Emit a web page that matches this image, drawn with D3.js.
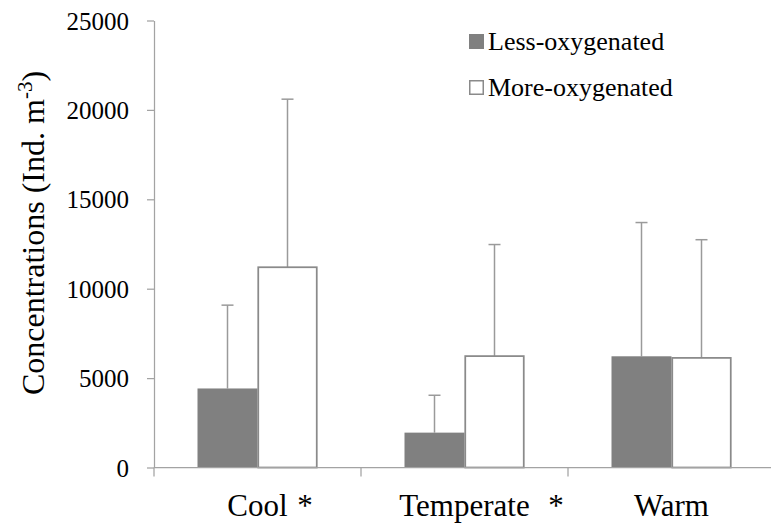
<!DOCTYPE html>
<html>
<head>
<meta charset="utf-8">
<script src="https://cdn.jsdelivr.net/npm/d3@7"></script>
<style>
  html, body { margin: 0; padding: 0; background: #fff; }
  svg { display: block; }
</style>
</head>
<body>
<svg id="chart" width="771" height="525"></svg>
<script>
// Mean concentrations by water-mass category, with upper error bars
const categories = ["Cool", "Temperate", "Warm"];
const significant = [true, true, false];
const seriesNames = ["Less-oxygenated", "More-oxygenated"];
const lessMeans = [4420, 1950, 6220];
const lessUpper = [9080, 4040, 13700];
const moreMeans = [11200, 6230, 6130];
const moreUpper = [20600, 12470, 12740];
const yTicks = [0, 5000, 10000, 15000, 20000, 25000];

const FONT = '"Liberation Serif"';

function draw() {
  const svg = d3.select("#chart");
  svg.selectAll("*").remove();
  const plot = { left: 154, right: 775, top: 20.5, bottom: 467.5 };

  const y = d3.scaleLinear().domain([0, 25000]).range([plot.bottom, plot.top]);
  const x0 = d3.scaleBand().domain(categories).range([plot.left, plot.right]).padding(0);
  const x1 = d3.scaleBand().domain(seriesNames).range([0, x0.bandwidth()])
    .paddingInner(0).paddingOuter(0.725);

  const rows = categories.map((c, i) => ({
    cat: c,
    bars: [
      { s: seriesNames[0], v: lessMeans[i], hi: lessUpper[i] },
      { s: seriesNames[1], v: moreMeans[i], hi: moreUpper[i] }
    ]
  }));

  const axisColor = "#a3a3a3";
  const errColor = "#9a9a9a";

  // error bars (drawn first so the bars sit on top of the stems)
  const groups = svg.append("g").selectAll("g").data(rows).join("g")
    .attr("transform", d => `translate(${x0(d.cat)},0)`);

  groups.selectAll("g.err").data(d => d.bars).join("g").attr("class", "err")
    .each(function (d) {
      const g = d3.select(this);
      const cx = x1(d.s) + x1.bandwidth() / 2;
      g.append("line").attr("x1", cx).attr("x2", cx)
        .attr("y1", y(d.v)).attr("y2", y(d.hi))
        .attr("stroke", errColor).attr("stroke-width", 1.5);
      g.append("line").attr("x1", cx - 6).attr("x2", cx + 6)
        .attr("y1", y(d.hi)).attr("y2", y(d.hi))
        .attr("stroke", errColor).attr("stroke-width", 1.5);
    });

  // bars
  groups.selectAll("rect").data(d => d.bars).join("rect")
    .attr("x", d => x1(d.s) + (d.s === seriesNames[1] ? 0.75 : 0))
    .attr("width", d => x1.bandwidth() - (d.s === seriesNames[1] ? 1.5 : 0))
    .attr("y", d => y(d.v))
    .attr("height", d => y(0) - y(d.v))
    .attr("fill", d => d.s === seriesNames[0] ? "#808080" : "#ffffff")
    .attr("stroke", d => d.s === seriesNames[0] ? "none" : "#8a8a8a")
    .attr("stroke-width", 1.75);

  // y axis
  const yAxis = d3.axisLeft(y).tickValues(yTicks).tickSize(7).tickSizeOuter(0).tickFormat(d3.format("d"));
  const gy = svg.append("g").attr("transform", `translate(${plot.left},0)`).call(yAxis);
  gy.attr("font-family", null).attr("font-size", null);
  gy.select(".domain").attr("stroke", axisColor).attr("stroke-width", 1.25);
  gy.selectAll(".tick line").attr("stroke", axisColor).attr("stroke-width", 1.25);
  gy.selectAll(".tick text").attr("x", -25).attr("dy", "0.34em").attr("fill", "#000")
    .style("font-family", FONT).style("font-size", "25px");

  // x axis: category boundaries
  const bounds = categories.map(c => x0(c)).concat([plot.right]);
  const gx = svg.append("g");
  gx.append("line").attr("x1", plot.left).attr("x2", plot.right)
    .attr("y1", y(0)).attr("y2", y(0))
    .attr("stroke", axisColor).attr("stroke-width", 1.25);
  gx.selectAll("line.b").data(bounds).join("line").attr("class", "b")
    .attr("x1", d => d).attr("x2", d => d)
    .attr("y1", y(0)).attr("y2", y(0) + 9)
    .attr("stroke", axisColor).attr("stroke-width", 1.25);

  // category labels
  const labelY = 516;
  svg.append("g").selectAll("text").data(categories).join("text")
    .attr("x", d => x0(d) + x0.bandwidth() / 2)
    .attr("y", labelY)
    .attr("text-anchor", "middle")
    .style("font-family", FONT).style("font-size", "31px")
    .text(d => d);

  // significance markers, placed just right of "Cool" and "Temperate"
  const markerX = [305, 556, null];
  svg.append("g").selectAll("text")
    .data(categories.map((c, i) => ({ c, i })).filter(d => significant[d.i]))
    .join("text")
    .attr("x", d => markerX[d.i])
    .attr("y", labelY)
    .attr("text-anchor", "middle")
    .style("font-family", FONT).style("font-size", "31px")
    .text("*");

  // y axis title
  const title = svg.append("text")
    .attr("transform", `translate(44, 233) rotate(-90)`)
    .attr("text-anchor", "middle")
    .style("font-family", FONT).style("font-size", "32px");
  title.append("tspan").text("Concentrations (Ind. m");
  title.append("tspan").attr("dy", -12).style("font-size", "21px").text("-3");
  title.append("tspan").attr("dy", 12).text(")");

  // legend
  const legend = svg.append("g").attr("transform", "translate(469, 34)");
  const legendRows = legend.selectAll("g").data(seriesNames).join("g")
    .attr("transform", (d, i) => `translate(0, ${i * 46})`);
  legendRows.append("rect")
    .attr("x", d => d === seriesNames[0] ? 0 : 0.75)
    .attr("y", d => d === seriesNames[0] ? 0 : 0.75)
    .attr("width", d => d === seriesNames[0] ? 15 : 13.5)
    .attr("height", d => d === seriesNames[0] ? 15 : 13.5)
    .attr("fill", d => d === seriesNames[0] ? "#808080" : "#fff")
    .attr("stroke", d => d === seriesNames[0] ? "none" : "#8a8a8a")
    .attr("stroke-width", 1.5);
  legendRows.append("text")
    .attr("x", 19).attr("y", 16)
    .style("font-family", FONT).style("font-size", "26px")
    .text(d => d);
}

draw();
if (document.fonts && document.fonts.load) {
  document.fonts.load('26px "Liberation Serif"').then(draw, draw);
}
</script>
</body>
</html>
